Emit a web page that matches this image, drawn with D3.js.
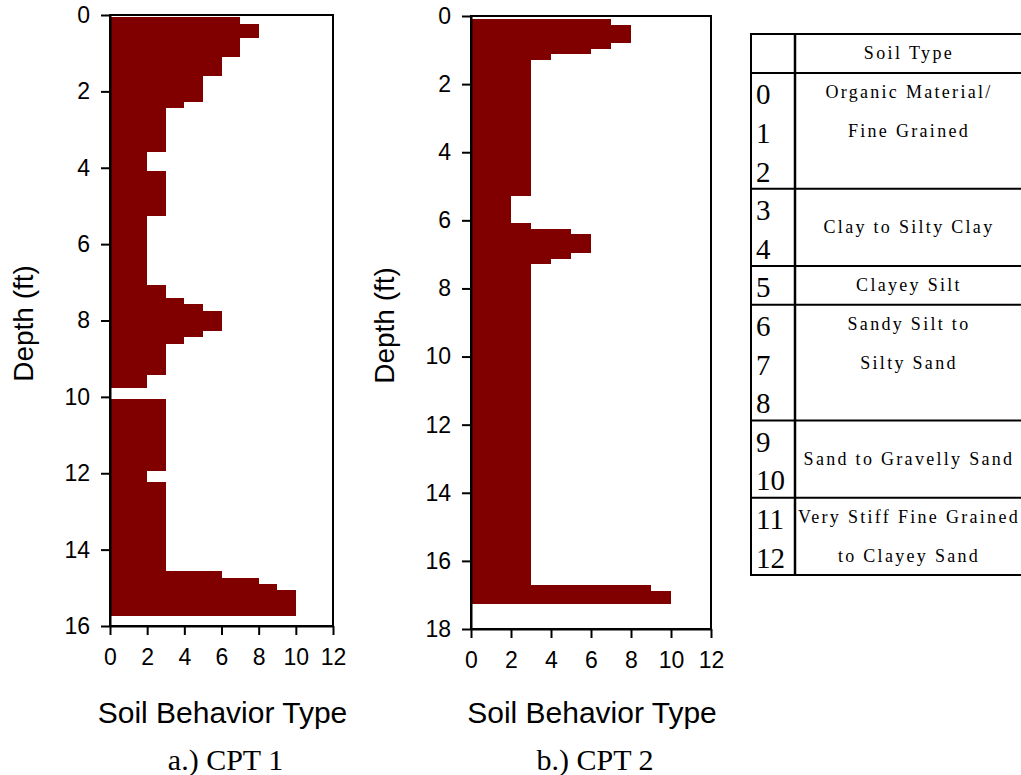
<!DOCTYPE html>
<html>
<head>
<meta charset="utf-8">
<script src="https://cdn.jsdelivr.net/npm/d3@7"></script>
<style>
  body { margin: 0; background: #fff; }
</style>
</head>
<body>
<div id="plot"></div>
<script>
// CPT 1 - soil behavior type by depth interval (ft)
const cpt1Top = [0.06, 0.24, 0.61, 1.11, 1.61, 2.28, 2.44, 3.60, 4.08, 5.27, 7.07, 7.40, 7.57, 7.74, 8.27, 8.44, 8.61, 9.42, 10.06, 11.94, 12.23, 14.56, 14.73, 14.90, 15.06];
const cpt1Bottom = [0.24, 0.61, 1.11, 1.61, 2.28, 2.44, 3.60, 4.08, 5.27, 7.07, 7.40, 7.57, 7.74, 8.27, 8.44, 8.61, 9.42, 9.77, 11.94, 12.23, 14.56, 14.73, 14.90, 15.06, 15.75];
const cpt1Sbt = [7, 8, 7, 6, 5, 4, 3, 2, 3, 2, 3, 4, 5, 6, 5, 4, 3, 2, 3, 2, 3, 6, 8, 9, 10];

// CPT 2
const cpt2Top = [0.09, 0.26, 0.78, 0.96, 1.12, 1.30, 5.28, 6.07, 6.25, 6.41, 6.95, 7.13, 7.29, 16.72, 16.89];
const cpt2Bottom = [0.26, 0.78, 0.96, 1.12, 1.30, 5.28, 6.07, 6.25, 6.41, 6.95, 7.13, 7.29, 16.72, 16.89, 17.26];
const cpt2Sbt = [7, 8, 7, 6, 4, 3, 2, 3, 5, 6, 5, 4, 3, 9, 10];

const sbtTicks = [0, 2, 4, 6, 8, 10, 12];
const cpt1DepthTicks = [0, 2, 4, 6, 8, 10, 12, 14, 16];
const cpt2DepthTicks = [0, 2, 4, 6, 8, 10, 12, 14, 16, 18];

// legend table
const soilCodes = [[0, 1, 2], [3, 4], [5], [6, 7, 8], [9, 10], [11, 12]];
const soilTypes = [
  ['Organic Material/', 'Fine Grained'],
  ['Clay to Silty Clay'],
  ['Clayey Silt'],
  ['Sandy Silt to', 'Silty Sand'],
  ['Sand to Gravelly Sand'],
  ['Very Stiff Fine Grained', 'to Clayey Sand'],
];

const width = 1021;
const height = 775;
const barColor = '#800000';
const sans = '"Liberation Sans", Arial, sans-serif';
const serif = '"Liberation Serif", "Times New Roman", serif';

const svg = d3.select('#plot')
  .append('svg')
  .attr('width', width)
  .attr('height', height);

function styleAxis(sel) {
  sel.selectAll('line, path')
    .attr('stroke', '#000')
    .attr('stroke-width', 2);
  sel.selectAll('text')
    .attr('fill', '#000')
    .style('font-family', sans)
    .style('font-size', '23px');
}

function drawProfile(opts) {
  const {
    top, bottom, sbt, depthTicks, left, right, y0, y1, caption,
  } = opts;
  const maxDepth = depthTicks[depthTicks.length - 1];

  const x = d3.scaleLinear().domain([0, 12]).range([left, right]);
  const y = d3.scaleLinear().domain([0, maxDepth]).range([y0, y1]);

  const g = svg.append('g');

  g.append('g')
    .selectAll('rect')
    .data(sbt.map((v, i) => ({ v, t: top[i], b: bottom[i] })))
    .enter()
    .append('rect')
    .attr('x', x(0))
    .attr('y', (d) => y(d.t))
    .attr('width', (d) => x(d.v) - x(0))
    .attr('height', (d) => y(d.b) - y(d.t))
    .attr('fill', barColor)
    .attr('shape-rendering', 'crispEdges');

  // frame
  g.append('rect')
    .attr('x', left)
    .attr('y', y0)
    .attr('width', right - left)
    .attr('height', y1 - y0)
    .attr('fill', 'none')
    .attr('stroke', '#000')
    .attr('stroke-width', 2);

  g.append('g')
    .attr('transform', `translate(${left},0)`)
    .call(d3.axisLeft(y).tickValues(depthTicks).tickSize(9).tickSizeOuter(0).tickPadding(11))
    .call(styleAxis);

  g.append('g')
    .attr('transform', `translate(0,${y1})`)
    .call(d3.axisBottom(x).tickValues(sbtTicks).tickSize(9).tickSizeOuter(0).tickPadding(14))
    .call(styleAxis);

  g.append('text')
    .attr('transform', `translate(${left - 77},${(y0 + y1) / 2 + 3}) rotate(-90)`)
    .attr('text-anchor', 'middle')
    .style('font-family', sans)
    .style('font-size', '28px')
    .text('Depth (ft)');

  g.append('text')
    .attr('x', (left + right) / 2 + 1)
    .attr('y', 723)
    .attr('text-anchor', 'middle')
    .style('font-family', sans)
    .style('font-size', '30px')
    .text('Soil Behavior Type');

  g.append('text')
    .attr('x', (left + right) / 2 + 4)
    .attr('y', 770)
    .attr('text-anchor', 'middle')
    .style('font-family', serif)
    .style('font-size', '30px')
    .text(caption);
}

drawProfile({
  top: cpt1Top, bottom: cpt1Bottom, sbt: cpt1Sbt, depthTicks: cpt1DepthTicks,
  left: 110, right: 333, y0: 15, y1: 626, caption: 'a.) CPT 1',
});

drawProfile({
  top: cpt2Top, bottom: cpt2Bottom, sbt: cpt2Sbt, depthTicks: cpt2DepthTicks,
  left: 471, right: 711, y0: 16, y1: 629, caption: 'b.) CPT 2',
});

// legend table
const tLeft = 751;
const tDiv = 795;
const tRight = 1023;
const tTop = 34;
const nLines = d3.sum(soilCodes, (c) => c.length);
const lineY = d3.scaleLinear().domain([0, nLines]).range([73, 575]);

const table = svg.append('g');

table.append('text')
  .attr('x', (tDiv + tRight) / 2)
  .attr('y', 59)
  .attr('text-anchor', 'middle')
  .style('font-family', serif)
  .style('font-size', '18px')
  .style('letter-spacing', '2.4px')
  .text('Soil Type');

let start = 0;
soilCodes.forEach((codes, i) => {
  const rowTop = lineY(start);
  const rowBottom = lineY(start + codes.length);

  codes.forEach((c, j) => {
    table.append('text')
      .attr('x', 756)
      .attr('y', lineY(start + j + 0.5) + 12)
      .style('font-family', serif)
      .style('font-size', '29px')
      .text(c);
  });

  const labels = soilTypes[i];
  labels.forEach((t, j) => {
    const cy = labels.length === 1
      ? (rowTop + rowBottom) / 2
      : lineY(start + j + 0.5);
    table.append('text')
      .attr('x', (tDiv + tRight) / 2)
      .attr('y', cy + 6)
      .attr('text-anchor', 'middle')
      .style('font-family', serif)
      .style('font-size', '18px')
      .style('letter-spacing', '2.3px')
      .text(t);
  });

  table.append('line')
    .attr('x1', tLeft).attr('x2', tRight)
    .attr('y1', rowTop).attr('y2', rowTop)
    .attr('stroke', '#000').attr('stroke-width', 2);

  start += codes.length;
});

table.append('rect')
  .attr('x', tLeft)
  .attr('y', tTop)
  .attr('width', tRight - tLeft)
  .attr('height', lineY(nLines) - tTop)
  .attr('fill', 'none')
  .attr('stroke', '#000')
  .attr('stroke-width', 2);

table.append('line')
  .attr('x1', tDiv).attr('x2', tDiv)
  .attr('y1', tTop).attr('y2', lineY(nLines))
  .attr('stroke', '#000').attr('stroke-width', 2.5);
</script>
</body>
</html>
